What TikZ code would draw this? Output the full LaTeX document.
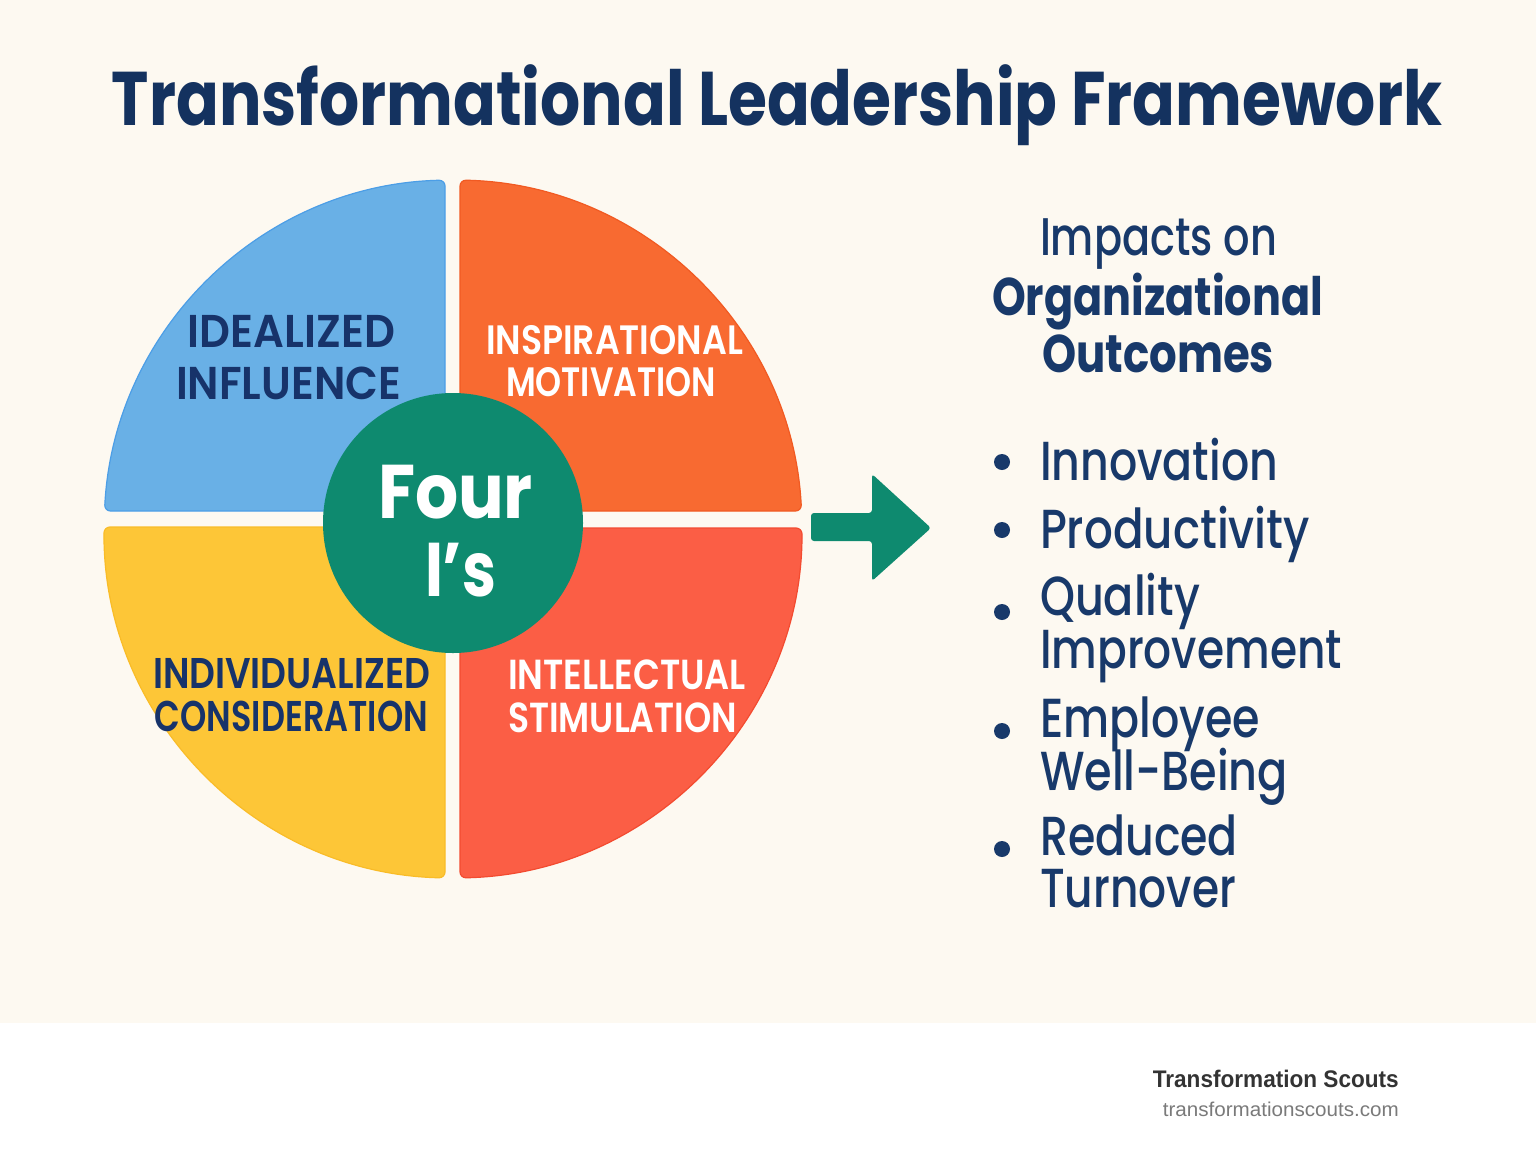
\documentclass[tikz,border=0pt]{standalone}
\usepackage{fontspec}
\setmainfont{Poppins}
\newfontfamily\popmed{Poppins}[UprightFont={* Medium}, BoldFont={* SemiBold}]
\newfontfamily\footfont{Liberation Sans}
\usepackage{graphicx}
\definecolor{cream}{HTML}{FDF9F1}
\definecolor{navy}{HTML}{14325F}
\definecolor{qnavy}{HTML}{17336A}
\definecolor{rtext}{HTML}{18396A}
\definecolor{bluef}{HTML}{69B0E6}
\definecolor{blueb}{HTML}{4C9EE6}
\definecolor{orangef}{HTML}{F86A31}
\definecolor{orangeb}{HTML}{F15A22}
\definecolor{yellowf}{HTML}{FDC637}
\definecolor{yellowb}{HTML}{F9BC28}
\definecolor{redf}{HTML}{FB5E45}
\definecolor{redb}{HTML}{F34B30}
\definecolor{hubgreen}{HTML}{0E8A6F}
\definecolor{footdark}{HTML}{333333}
\definecolor{footgray}{HTML}{7A7A7A}
\newcommand{\wfit}[2]{\resizebox{#1}{\height}{#2}}
\tikzset{
  txt/.style={inner sep=0pt, outer sep=0pt, anchor=base},
  txtw/.style={inner sep=0pt, outer sep=0pt, anchor=base west},
  quad/.style={line width=1.2pt, rounded corners=6pt},
  dot/.style={circle, fill=rtext, minimum size=16pt, inner sep=0pt},
}
\begin{document}
\begin{tikzpicture}[x=1pt,y=1pt]
\useasboundingbox (0,0) rectangle (1536,-1154);
\fill[cream] (0,0) rectangle (1536,-1023);
\fill[white] (0,-1023) rectangle (1536,-1154);

% title
\node[txt, text=navy] (title) at (777,-125) {\wfit{1330pt}{\fontsize{76}{76}\selectfont\bfseries Transformational Leadership Framework}};

% quadrants
\fill[bluef, draw=blueb, quad] (445,-511) -- (104.5,-511) arc[start angle=177.04, end angle=91.31, radius=349] -- cycle;
\fill[orangef, draw=orangeb, quad] (460,-511) -- (460,-180.1) arc[start angle=88.85, end angle=2.96, radius=349] -- cycle;
\fill[yellowf, draw=yellowb, quad] (445,-527) -- (104,-527) arc[start angle=179.67, end angle=268.69, radius=349] -- cycle;
\fill[redf, draw=redb, quad] (460,-528) -- (802,-528) arc[start angle=0.16, end angle=-88.85, radius=349] -- cycle;

% quadrant labels
\node[txt, text=qnavy] (il1) at (291.5,-347) {\wfit{207pt}{\popmed\fontsize{46}{46}\selectfont\bfseries IDEALIZED}};
\node[txt, text=qnavy] (il2) at (288.5,-399) {\wfit{225pt}{\popmed\fontsize{46}{46}\selectfont\bfseries INFLUENCE}};
\node[txt, text=white] (im1) at (614.5,-354) {\wfit{257pt}{\popmed\fontsize{41}{41}\selectfont\bfseries INSPIRATIONAL}};
\node[txt, text=white] (im2) at (611,-396) {\wfit{210pt}{\popmed\fontsize{41}{41}\selectfont\bfseries MOTIVATION}};
\node[txt, text=qnavy] (ic1) at (291.5,-688) {\wfit{277pt}{\popmed\fontsize{43}{43}\selectfont\bfseries INDIVIDUALIZED}};
\node[txt, text=qnavy] (ic2) at (291.5,-731) {\wfit{273pt}{\popmed\fontsize{43}{43}\selectfont\bfseries CONSIDERATION}};
\node[txt, text=white] (is1) at (627,-689) {\wfit{238pt}{\popmed\fontsize{42}{42}\selectfont\bfseries INTELLECTUAL}};
\node[txt, text=white] (is2) at (622.5,-732) {\wfit{229pt}{\popmed\fontsize{42}{42}\selectfont\bfseries STIMULATION}};

% hub
\node[circle, fill=hubgreen, minimum size=260pt, inner sep=0pt] (hub) at (453,-523) {};
\node[txt, text=white] (four) at (455.5,-518) {\wfit{155pt}{\fontsize{76}{76}\selectfont\bfseries Four}};
\node[txt, text=white] (ies) at (460.5,-596) {\wfit{71pt}{\fontsize{76}{76}\selectfont\bfseries I’s}};

% arrow
\fill[hubgreen, rounded corners=3pt] (811,-513) -- (872,-513) -- (872,-474) -- (931,-528) -- (872,-581) -- (872,-541) -- (811,-541) -- cycle;

% outcomes heading
\node[txt, text=rtext] (h1) at (1158.5,-255) {\wfit{237pt}{\popmed\fontsize{53}{53}\selectfont Impacts on}};
\node[txt, text=rtext] (h2) at (1157.5,-315) {\wfit{331pt}{\fontsize{53}{53}\selectfont\bfseries Organizational}};
\node[txt, text=rtext] (h3) at (1158,-372) {\wfit{232pt}{\fontsize{53}{53}\selectfont\bfseries Outcomes}};

% bullets
\node[dot] (d1) at (1002,-462) {};
\node[dot] (d2) at (1002,-530) {};
\node[dot] (d3) at (1002,-612) {};
\node[dot] (d4) at (1002,-731) {};
\node[dot] (d5) at (1002,-849) {};
\node[txtw, text=rtext] (o1) at (1040,-480) {\wfit{238pt}{\popmed\fontsize{55}{55}\selectfont Innovation}};
\node[txtw, text=rtext] (o2) at (1040,-548) {\wfit{270pt}{\popmed\fontsize{55}{55}\selectfont Productivity}};
\node[txtw, text=rtext] (o3a) at (1040,-615) {\wfit{160pt}{\popmed\fontsize{55}{55}\selectfont Quality}};
\node[txtw, text=rtext] (o3b) at (1040,-668) {\wfit{302pt}{\popmed\fontsize{55}{55}\selectfont Improvement}};
\node[txtw, text=rtext] (o4a) at (1040,-737) {\wfit{220pt}{\popmed\fontsize{55}{55}\selectfont Employee}};
\node[txtw, text=rtext] (o4b) at (1040,-790) {\wfit{248pt}{\popmed\fontsize{55}{55}\selectfont Well-Being}};
\node[txtw, text=rtext] (o5a) at (1040,-855) {\wfit{198pt}{\popmed\fontsize{55}{55}\selectfont Reduced}};
\node[txtw, text=rtext] (o5b) at (1040,-907) {\wfit{196pt}{\popmed\fontsize{55}{55}\selectfont Turnover}};

% footer
\node[inner sep=0pt, anchor=base east, text=footdark] (brand) at (1399,-1087) {\wfit{246pt}{\footfont\bfseries\fontsize{24}{24}\selectfont Transformation Scouts}};
\node[inner sep=0pt, anchor=base east, text=footgray] (url) at (1399,-1116) {\wfit{236pt}{\footfont\fontsize{20}{20}\selectfont transformationscouts.com}};
\end{tikzpicture}
\end{document}
